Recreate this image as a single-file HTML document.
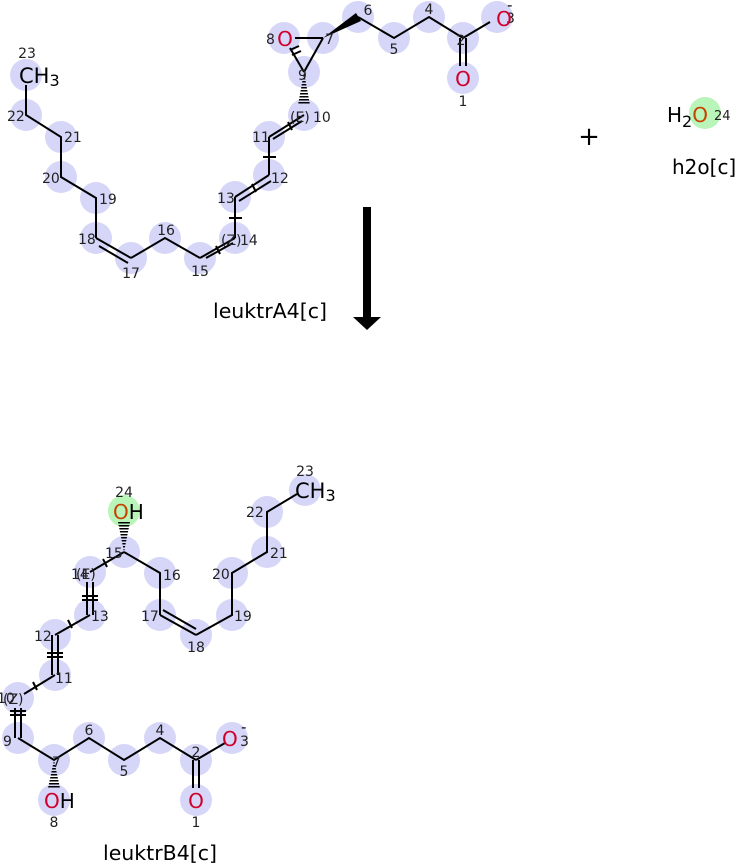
<!DOCTYPE html>
<html><head><meta charset="utf-8"><style>
html,body{margin:0;padding:0;background:#fff;width:737px;height:864px;overflow:hidden}
svg{display:block}
text{font-family:"DejaVu Sans","Liberation Sans",sans-serif}
.n{font-size:14px;fill:#222}
.b line,.b polyline{stroke:#000;stroke-width:2;fill:none}
</style></head><body>
<svg width="737" height="864" viewBox="0 0 737 864" xmlns="http://www.w3.org/2000/svg">
<defs>
<pattern id="h" width="4" height="3" patternUnits="userSpaceOnUse"><rect width="4" height="1.5" fill="#000"/></pattern>
</defs>
<g fill="#d6d6f8">
<circle cx="358" cy="17" r="16"/><circle cx="323" cy="38" r="16"/><circle cx="284" cy="38" r="16"/>
<circle cx="304" cy="72" r="16"/><circle cx="304" cy="115" r="16"/><circle cx="269" cy="137" r="16"/>
<circle cx="269" cy="175" r="16"/><circle cx="235" cy="197" r="16"/><circle cx="235" cy="238" r="16"/>
<circle cx="200" cy="258" r="16"/><circle cx="165" cy="238" r="16"/><circle cx="131" cy="258" r="16"/>
<circle cx="96" cy="238" r="16"/><circle cx="96" cy="198" r="16"/><circle cx="61" cy="177" r="16"/>
<circle cx="61" cy="137" r="16"/><circle cx="26" cy="115" r="16"/><circle cx="26" cy="75" r="16"/>
<circle cx="394" cy="38" r="16"/><circle cx="429" cy="17" r="16"/><circle cx="463" cy="38" r="16"/>
<circle cx="497" cy="17" r="16"/><circle cx="463" cy="78" r="16"/>
<circle cx="124" cy="552" r="16"/><circle cx="90" cy="572" r="16"/><circle cx="90" cy="615" r="16"/>
<circle cx="55" cy="635" r="16"/><circle cx="55" cy="675" r="16"/><circle cx="18" cy="698" r="16"/>
<circle cx="18" cy="738" r="16"/><circle cx="54" cy="760" r="16"/><circle cx="54" cy="800" r="16"/>
<circle cx="89" cy="738" r="16"/><circle cx="124" cy="760" r="16"/><circle cx="160" cy="738" r="16"/>
<circle cx="196" cy="760" r="16"/><circle cx="232" cy="738" r="16"/><circle cx="196" cy="800" r="16"/>
<circle cx="160" cy="573" r="16"/><circle cx="160" cy="615" r="16"/><circle cx="196" cy="635" r="16"/>
<circle cx="232" cy="615" r="16"/><circle cx="232" cy="573" r="16"/><circle cx="267" cy="552" r="16"/>
<circle cx="267" cy="512" r="16"/><circle cx="305" cy="490" r="16"/>
</g>
<circle cx="124" cy="511" r="16" fill="#b9f5b9"/>
<circle cx="705" cy="113" r="16" fill="#b9f5b9"/>

<g class="b">
<line x1="295" y1="38" x2="323" y2="38"/><line x1="323" y1="38" x2="304" y2="72"/><line x1="290" y1="48" x2="304" y2="72"/>
<polyline points="358,17 394,38 429,17 463,38"/>
<line x1="463" y1="38" x2="490" y2="22"/>
<line x1="460" y1="38" x2="460" y2="66"/><line x1="466" y1="38" x2="466" y2="66"/>
<line x1="304" y1="115" x2="269" y2="137"/><line x1="302" y1="121" x2="273" y2="139"/>
<line x1="269" y1="137" x2="269" y2="175"/>
<line x1="269" y1="175" x2="235" y2="197"/><line x1="271" y1="181" x2="239" y2="201"/>
<line x1="235" y1="197" x2="235" y2="238"/>
<line x1="235" y1="238" x2="200" y2="258"/><line x1="233" y1="243" x2="206" y2="258"/>
<polyline points="200,258 165,238 131,258"/>
<line x1="131" y1="258" x2="96" y2="238"/><line x1="128" y1="263" x2="99" y2="246"/>
<polyline points="96,238 96,198 61,177 61,137 26,115 26,85"/>
<line x1="263" y1="157" x2="276" y2="157"/><line x1="229" y1="218" x2="242" y2="218"/>
<line x1="288" y1="122" x2="292" y2="130"/><line x1="252" y1="184" x2="256" y2="192"/><line x1="216" y1="246" x2="220" y2="254"/>
<line x1="290" y1="50" x2="299" y2="46"/><line x1="292" y1="55" x2="301" y2="51"/>
<line x1="124" y1="552" x2="90" y2="572"/>
<line x1="87" y1="582" x2="87" y2="615"/><line x1="93" y1="582" x2="93" y2="615"/>
<line x1="90" y1="615" x2="55" y2="635"/>
<line x1="52" y1="635" x2="52" y2="675"/><line x1="58" y1="635" x2="58" y2="675"/>
<line x1="55" y1="675" x2="24" y2="694"/>
<line x1="15" y1="708" x2="15" y2="738"/><line x1="21" y1="708" x2="21" y2="738"/>
<polyline points="18,738 54,760 89,738 124,760 160,738 196,760"/>
<line x1="196" y1="760" x2="225" y2="743"/>
<line x1="193" y1="760" x2="193" y2="788"/><line x1="199" y1="760" x2="199" y2="788"/>
<polyline points="124,552 160,573 160,615"/>
<line x1="160" y1="615" x2="196" y2="635"/><line x1="163" y1="610" x2="196" y2="629" />
<polyline points="196,635 232,615 232,573 267,552 267,512 297,494"/>
<line x1="82" y1="596" x2="98" y2="596"/><line x1="82" y1="600" x2="98" y2="600"/>
<line x1="47" y1="653" x2="63" y2="653"/><line x1="47" y1="657" x2="63" y2="657"/>
<line x1="10" y1="711" x2="26" y2="711"/><line x1="10" y1="715" x2="26" y2="715"/>
<line x1="103" y1="559" x2="107" y2="567"/><line x1="68" y1="620" x2="72" y2="628"/><line x1="33" y1="682" x2="37" y2="690"/>
</g>
<polygon points="323,38 356,13 361,21" fill="#000"/>
<polygon points="304,72 298,105 310,105" fill="url(#h)"/>
<polygon points="124,552 118,522 130,522" fill="url(#h)"/>
<polygon points="54,760 48,788 60,788" fill="url(#h)"/>

<g class="n">
<text x="368" y="15" text-anchor="middle">6</text><text x="325" y="44">7</text><text x="266" y="44">8</text>
<text x="298" y="80">9</text><text x="290" y="122">(E)</text><text x="313" y="122">10</text>
<text x="252" y="142">11</text><text x="271" y="183">12</text><text x="217" y="203">13</text>
<text x="221" y="245">(Z)</text><text x="240" y="245">14</text><text x="200" y="276" text-anchor="middle">15</text>
<text x="166" y="235" text-anchor="middle">16</text><text x="131" y="278" text-anchor="middle">17</text>
<text x="78" y="244">18</text><text x="99" y="204">19</text><text x="42" y="183">20</text><text x="64" y="142">21</text>
<text x="7" y="121">22</text><text x="27" y="58" text-anchor="middle">23</text>
<text x="394" y="54" text-anchor="middle">5</text><text x="429" y="14" text-anchor="middle">4</text>
<text x="461" y="45" text-anchor="middle">2</text><text x="506" y="23">3</text><text x="463" y="106" text-anchor="middle">1</text>
</g>
<text x="19" y="83" font-size="21">CH<tspan font-size="16" dy="3">3</tspan></text>
<text x="285" y="46" font-size="20" fill="#d0002a" text-anchor="middle">O</text>
<text x="504" y="26" font-size="20" fill="#d0002a" text-anchor="middle">O</text>
<text x="507" y="10" font-size="15">-</text>
<text x="463" y="86" font-size="20" fill="#d0002a" text-anchor="middle">O</text>

<rect x="363" y="207" width="8" height="111" fill="#000"/>
<polygon points="353,317 381,317 367,330" fill="#000"/>
<text x="589" y="145" font-size="26" text-anchor="middle">+</text>
<text x="667" y="122" font-size="20">H<tspan font-size="16" dy="5">2</tspan><tspan dy="-5" fill="#c84000">O</tspan></text>
<text x="714" y="120" font-size="13" fill="#222">24</text>
<text x="672" y="174" font-size="20">h2o[c]</text>
<text x="213" y="318" font-size="20.5">leuktrA4[c]</text>

<g class="n">
<text x="124" y="497" text-anchor="middle">24</text><text x="105" y="558">15</text>
<text x="71" y="579">14</text><text x="76" y="579">(E)</text><text x="91" y="621">13</text>
<text x="34" y="641">12</text><text x="55" y="683">11</text><text x="-3" y="703">10</text><text x="3" y="704">(Z)</text>
<text x="3" y="746">9</text><text x="52" y="767">7</text><text x="89" y="735" text-anchor="middle">6</text>
<text x="124" y="776" text-anchor="middle">5</text><text x="160" y="735" text-anchor="middle">4</text>
<text x="196" y="757" text-anchor="middle">2</text><text x="240" y="746">3</text>
<text x="196" y="827" text-anchor="middle">1</text><text x="54" y="827" text-anchor="middle">8</text>
<text x="163" y="580">16</text><text x="141" y="621">17</text><text x="196" y="652" text-anchor="middle">18</text>
<text x="234" y="621">19</text><text x="212" y="579">20</text><text x="270" y="558">21</text>
<text x="246" y="517">22</text><text x="305" y="476" text-anchor="middle">23</text>
</g>
<text x="113" y="519" font-size="20"><tspan fill="#c84000">O</tspan>H</text>
<text x="44" y="808" font-size="20"><tspan fill="#d0002a">O</tspan>H</text>
<text x="222" y="746" font-size="20" fill="#d0002a">O</text>
<text x="241" y="732" font-size="15">-</text>
<text x="196" y="808" font-size="20" fill="#d0002a" text-anchor="middle">O</text>
<text x="295" y="498" font-size="21">CH<tspan font-size="16" dy="3">3</tspan></text>
<text x="103" y="860" font-size="20.5">leuktrB4[c]</text>
</svg>
</body></html>
